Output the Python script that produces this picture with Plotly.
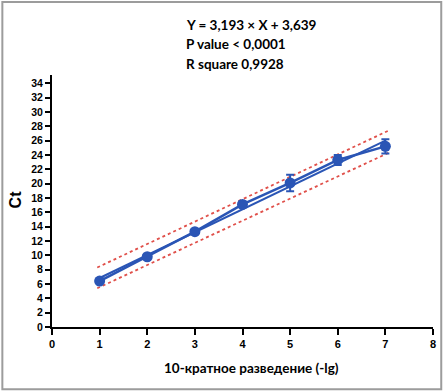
import plotly.graph_objects as go

# ---- data ----
dilution = [1, 2, 3, 4, 5, 6, 7]
ct_mean = [6.4, 9.8, 13.3, 17.1, 20.1, 23.3, 25.2]
ct_err = [0.2, 0.2, 0.3, 0.4, 1.15, 0.7, 1.0]

slope = 3.193
intercept = 3.639
fit_x = [1, 7]
band_x = [0.95, 7.1]
band_upper = [8.3, 27.5]
band_lower = [5.4, 24.4]

x_ticks = [0, 1, 2, 3, 4, 5, 6, 7, 8]
y_ticks = list(range(0, 35, 2))

annotation_lines = ["Y = 3,193 × X + 3,639", "P value < 0,0001", "R square 0,9928"]
x_title = "10-кратное разведение (-lg)"
y_title = "Ct"

BLUE = "#2a55b5"
RED = "#e0504a"

fig = go.Figure()

# prediction bands
fig.add_trace(go.Scatter(x=band_x, y=band_upper, mode="lines",
                         line=dict(color=RED, width=1.8, dash="dot"), hoverinfo="skip"))
fig.add_trace(go.Scatter(x=band_x, y=band_lower, mode="lines",
                         line=dict(color=RED, width=1.8, dash="dot"), hoverinfo="skip"))
# fit line
fig.add_trace(go.Scatter(x=fit_x, y=[slope * v + intercept for v in fit_x], mode="lines",
                         line=dict(color=BLUE, width=2)))
# data
fig.add_trace(go.Scatter(x=dilution, y=ct_mean, mode="lines+markers",
                         line=dict(color=BLUE, width=2.5),
                         marker=dict(color=BLUE, size=11, symbol="circle"),
                         error_y=dict(type="data", array=ct_err, visible=True,
                                      color=BLUE, thickness=2, width=4)))

L, R, T, B = 52, 10.3, 75, 64.3
W, H = 446, 391
pw = W - L - R
ph = H - T - B

def px(xp):
    return (xp - L) / pw

def py(yp):
    return (H - B - yp) / ph

ann = []
for i, (txt, yc) in enumerate(zip(annotation_lines, [25, 44.5, 64])):
    ann.append(dict(text=txt, x=px(185), y=py(yc), xref="paper", yref="paper",
                    xanchor="left", yanchor="middle", showarrow=False,
                    font=dict(family="Lato", size=13.5, color="black", weight="bold")))
ann.append(dict(text=x_title, x=px(253), y=py(368), xref="paper", yref="paper",
                xanchor="center", yanchor="middle", showarrow=False,
                font=dict(family="Lato", size=13.5, color="black", weight="bold")))
ann.append(dict(text=y_title, x=px(15), y=py(199), xref="paper", yref="paper",
                xanchor="center", yanchor="middle", showarrow=False, textangle=-90,
                font=dict(family="Liberation Sans", size=16, color="black", weight="bold")))

fig.update_layout(
    width=W, height=H,
    margin=dict(l=L, r=R, t=T, b=B),
    paper_bgcolor="white", plot_bgcolor="white",
    showlegend=False,
    annotations=ann,
    shapes=[dict(type="rect", xref="paper", yref="paper",
                 x0=px(2), x1=px(444), y0=py(389), y1=py(2),
                 line=dict(color="#9c9c9c", width=2), layer="below")],
    xaxis=dict(range=[0, 8], tickvals=x_ticks, ticktext=[str(v) for v in x_ticks],
               showgrid=False, zeroline=False, showline=True, linecolor="black", linewidth=2,
               ticks="outside", ticklen=6, tickwidth=2, tickcolor="black",
               tickfont=dict(family="Liberation Sans", size=11, color="black", weight="bold")),
    yaxis=dict(range=[0, 35.15], tickvals=y_ticks, ticktext=[str(v) for v in y_ticks],
               showgrid=False, zeroline=False, showline=True, linecolor="black", linewidth=2,
               ticks="outside", ticklen=5, tickwidth=2, tickcolor="black",
               tickfont=dict(family="Liberation Sans", size=10.5, color="black", weight="bold")),
)

fig.write_html("out.html", config={"displayModeBar": False},
               post_script="document.body.style.margin='0';document.body.style.overflow='hidden';")
